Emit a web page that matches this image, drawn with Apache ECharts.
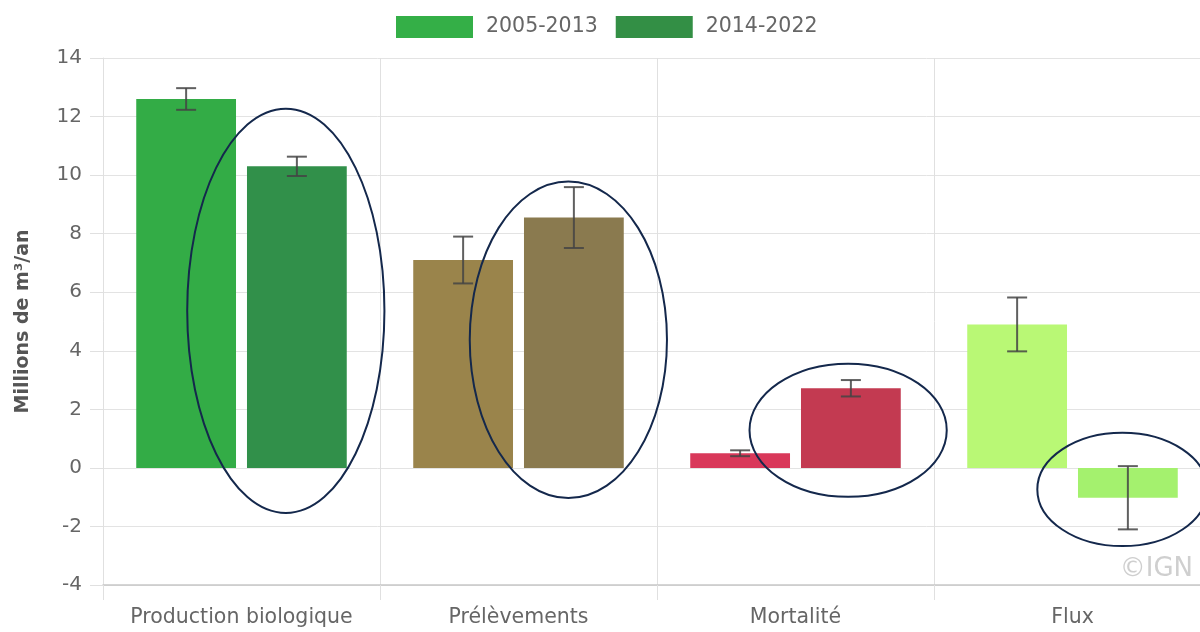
<!DOCTYPE html>
<html>
<head>
<meta charset="utf-8">
<style>
  html, body { margin: 0; padding: 0; background: #fff; }
  #main { width: 1200px; height: 632px; }
</style>
<script src="https://cdn.jsdelivr.net/npm/echarts@6/dist/echarts.min.js"></script>
</head>
<body>
<div id="main"></div>
<script>
var categories = ["Production biologique", "Prélèvements", "Mortalité", "Flux"];
var periods = ["2005-2013", "2014-2022"];

// valeurs (millions de m3/an) et demi-intervalles
var values2005 = [12.6, 7.1, 0.5, 4.9];
var errors2005 = [0.37, 0.8, 0.1, 0.92];
var values2014 = [10.3, 8.55, 2.72, -1.02];
var errors2014 = [0.33, 1.04, 0.28, 1.08];

var colors2005 = ["#33ac46", "#9a844b", "#d9385a", "#b9f875"];
var colors2014 = ["#31904a", "#8a7a4f", "#c33a51", "#a4f16e"];

// ellipses d'annotation : categorie, decalage (part de la bande), haut, bas, demi-largeur
var ellipses = [
  [0, 0.16, 12.27, -1.54, 0.356],
  [1, 0.18, 9.78, -1.03, 0.356],
  [2, 0.19, 3.56, -0.99, 0.356],
  [3, 0.18, 1.2, -2.67, 0.307]
];

var font = "'DejaVu Sans', Verdana, sans-serif";
var catGap = 0.24, barGap = 0.11;

function barData(vals, cols) {
  return vals.map(function (v, i) {
    return { value: v, itemStyle: { color: cols[i] } };
  });
}

function errData(vals, errs) {
  return vals.map(function (v, i) {
    return [i, v + errs[i], v - errs[i]];
  });
}

function errorRenderer(side) {
  return function (params, api) {
    var band = api.size([1, 0])[0];
    var barW = band * (1 - catGap) / (2 + barGap);
    var off = side * barW * (1 + barGap) / 2;
    var hi = api.coord([api.value(0), api.value(1)]);
    var lo = api.coord([api.value(0), api.value(2)]);
    var x = hi[0] + off;
    var cap = 10;
    var style = { stroke: "#444", lineWidth: 2, opacity: 0.85 };
    return {
      type: "group",
      children: [
        { type: "line", shape: { x1: x, y1: hi[1], x2: x, y2: lo[1] }, style: style },
        { type: "line", shape: { x1: x - cap, y1: hi[1], x2: x + cap, y2: hi[1] }, style: style },
        { type: "line", shape: { x1: x - cap, y1: lo[1], x2: x + cap, y2: lo[1] }, style: style }
      ]
    };
  };
}

var myChart = echarts.init(document.getElementById("main"));

var option = {
  animation: false,
  textStyle: { fontFamily: font },
  legend: {
    top: 11,
    left: 391,
    data: periods,
    itemWidth: 77,
    itemHeight: 22,
    itemGap: 18,
    icon: "rect",
    textStyle: { fontSize: 20.5, color: "#666", fontFamily: font, padding: [0, 0, 0, 8] }
  },
  grid: { left: 103, right: -11, top: 58, bottom: 47, outerBoundsMode: "none" },
  xAxis: {
    type: "category",
    data: categories,
    axisLine: { onZero: false, lineStyle: { color: "#c8c8c8", width: 1.5 } },
    axisTick: { show: true, interval: 0, length: 15, lineStyle: { color: "#e0e0e0" } },
    splitLine: { show: true, interval: 0, lineStyle: { color: "#e0e0e0" } },
    axisLabel: { interval: 0, fontSize: 20.5, color: "#666", margin: 22, fontFamily: font }
  },
  yAxis: {
    type: "value",
    min: -4,
    max: 14,
    interval: 2,
    name: "Millions de m³/an",
    nameLocation: "middle",
    nameGap: 70,
    nameTextStyle: { fontSize: 19, fontWeight: "bold", color: "#555", fontFamily: font },
    axisLine: { show: true, lineStyle: { color: "#e0e0e0" } },
    axisTick: { show: true, length: 13, lineStyle: { color: "#e0e0e0" } },
    splitLine: { lineStyle: { color: "#e3e3e3" } },
    axisLabel: { fontSize: 20, color: "#666", margin: 21, fontFamily: font }
  },
  series: [
    {
      name: periods[0],
      type: "bar",
      barGap: barGap * 100 + "%",
      barCategoryGap: catGap * 100 + "%",
      itemStyle: { color: "#34af47" },
      data: barData(values2005, colors2005)
    },
    {
      name: periods[1],
      type: "bar",
      itemStyle: { color: "#338f45" },
      data: barData(values2014, colors2014)
    },
    {
      name: "err-2005",
      type: "custom",
      renderItem: errorRenderer(-1),
      encode: { x: 0, y: [1, 2] },
      z: 10,
      data: errData(values2005, errors2005)
    },
    {
      name: "err-2014",
      type: "custom",
      renderItem: errorRenderer(1),
      encode: { x: 0, y: [1, 2] },
      z: 10,
      data: errData(values2014, errors2014)
    }
  ]
};

myChart.setOption(option);

// annotations (ellipses + copyright)
function drawAnnotations() {
  var p0 = myChart.convertToPixel({ gridIndex: 0 }, [0, 0]);
  var p1 = myChart.convertToPixel({ gridIndex: 0 }, [1, 0]);
  var band = p1[0] - p0[0];
  var graphics = ellipses.map(function (e) {
    var top = myChart.convertToPixel({ gridIndex: 0 }, [e[0], e[2]]);
    var bot = myChart.convertToPixel({ gridIndex: 0 }, [e[0], e[3]]);
    return {
      type: "ellipse",
      shape: {
        cx: top[0] + e[1] * band,
        cy: (top[1] + bot[1]) / 2,
        rx: e[4] * band,
        ry: (bot[1] - top[1]) / 2
      },
      style: { fill: null, stroke: "#14284c", lineWidth: 2 },
      z: 100
    };
  });
  graphics.push({
    type: "text",
    right: 7,
    bottom: 50,
    style: { text: "©IGN", fontSize: 26, fill: "#cfcfcf", fontFamily: font },
    z: 100
  });
  myChart.setOption({ graphic: graphics });
}
drawAnnotations();

window.onresize = function () {
  myChart.resize();
  drawAnnotations();
};
</script>
</body>
</html>
